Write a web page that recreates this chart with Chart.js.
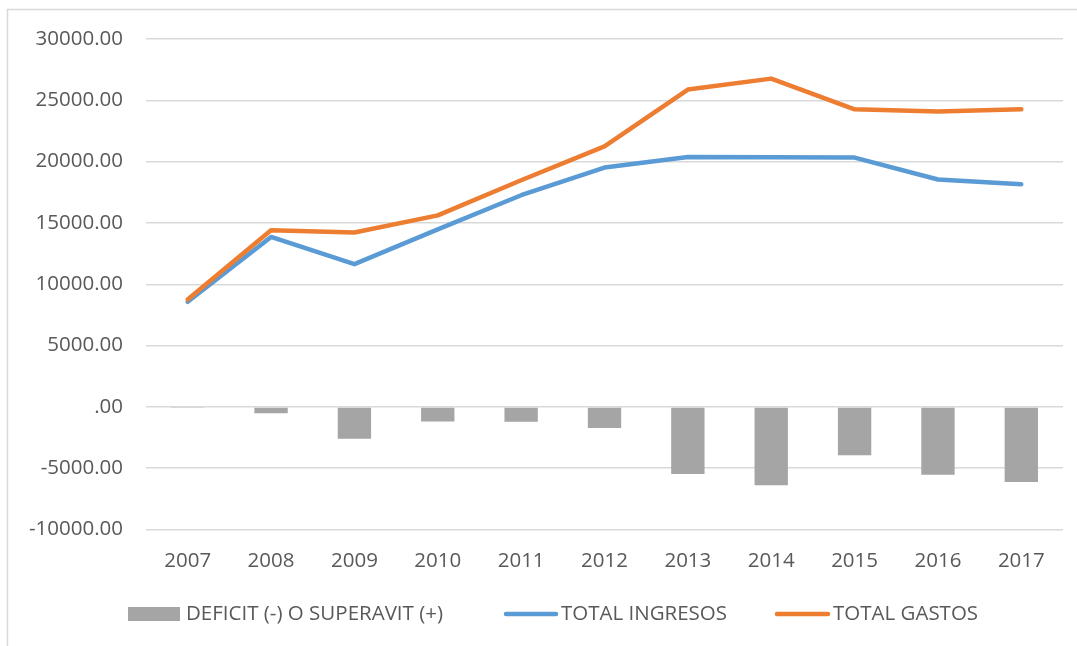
<!DOCTYPE html>
<html>
<head>
<meta charset="utf-8">
<script src="https://cdn.jsdelivr.net/npm/chart.js@4.4.1/dist/chart.umd.min.js"></script>
<style>
html,body{margin:0;padding:0;background:#fff;}
#wrap{position:relative;width:1077px;height:646px;}
</style>
</head>
<body>
<div id="wrap"><canvas id="c" width="1077" height="646"></canvas></div>
<script>
const categories = ["2007","2008","2009","2010","2011","2012","2013","2014","2015","2016","2017"];
const deficit = [-100, -530, -2600, -1200, -1210, -1720, -5470, -6390, -3940, -5530, -6120];
const ingresos = [8570, 13860, 11640, 14470, 17260, 19520, 20380, 20360, 20330, 18540, 18160];
const gastos = [8760, 14410, 14220, 15620, 18480, 21250, 25880, 26770, 24270, 24080, 24270];
const seriesNames = ["DEFICIT (-) O SUPERAVIT (+)", "TOTAL INGRESOS", "TOTAL GASTOS"];
const yTicks = [-10000, -5000, 0, 5000, 10000, 15000, 20000, 25000, 30000];

const FONT = "'Open Sans', 'Noto Sans', sans-serif";
const FS = 20.5;
const TEXT = "#595959";
const GREY = "#A5A5A5", BLUE = "#5B9BD5", ORANGE = "#ED7D31";

const frame = {
  id: 'frame',
  beforeDraw(chart) {
    const ctx = chart.ctx;
    ctx.save();
    ctx.strokeStyle = '#D9D9D9';
    ctx.lineWidth = 1.5;
    ctx.beginPath();
    ctx.moveTo(7.5, 700);
    ctx.lineTo(7.5, 9.5);
    ctx.lineTo(1100, 9.5);
    ctx.stroke();
    ctx.restore();
  },
  afterDraw(chart) {
    const ctx = chart.ctx;
    ctx.save();
    ctx.font = FS + "px " + FONT;
    ctx.fillStyle = TEXT;
    ctx.textBaseline = 'middle';
    const y = 614;
    ctx.fillStyle = GREY;
    ctx.fillRect(128, 607, 52, 14);
    ctx.fillStyle = TEXT;
    ctx.fillText(seriesNames[0], 186, y);
    ctx.lineCap = 'round';
    ctx.lineWidth = 4.5;
    ctx.strokeStyle = BLUE;
    ctx.beginPath(); ctx.moveTo(506, y); ctx.lineTo(556, y); ctx.stroke();
    ctx.fillText(seriesNames[1], 561, y);
    ctx.strokeStyle = ORANGE;
    ctx.beginPath(); ctx.moveTo(777, y); ctx.lineTo(828, y); ctx.stroke();
    ctx.fillText(seriesNames[2], 833, y);
    ctx.restore();
  }
};

new Chart(document.getElementById('c'), {
  data: {
    labels: categories,
    datasets: [
      { type: 'line', label: seriesNames[2], data: gastos, borderColor: ORANGE, backgroundColor: ORANGE,
        borderWidth: 4.5, pointRadius: 0, tension: 0, borderCapStyle: 'round', borderJoinStyle: 'round', order: 1 },
      { type: 'line', label: seriesNames[1], data: ingresos, borderColor: BLUE, backgroundColor: BLUE,
        borderWidth: 4.5, pointRadius: 0, tension: 0, borderCapStyle: 'round', borderJoinStyle: 'round', order: 2 },
      { type: 'bar', label: seriesNames[0], data: deficit, backgroundColor: GREY,
        barPercentage: 0.4, categoryPercentage: 1.0, order: 3 }
    ]
  },
  options: {
    responsive: false,
    animation: false,
    devicePixelRatio: 1,
    layout: { padding: { left: 0, top: 39, right: 14, bottom: 0 } },
    plugins: { legend: { display: false }, tooltip: { enabled: false } },
    scales: {
      x: {
        offset: true,
        grid: { display: false, drawTicks: false },
        border: { display: false },
        ticks: { color: TEXT, font: { family: FONT, size: FS }, padding: 19, maxRotation: 0 },
        afterFit(s) { s.height = 116.5; }
      },
      y: {
        min: -10000, max: 30000,
        afterBuildTicks(s) { s.ticks = yTicks.map(v => ({ value: v })); },
        grid: { color: '#D9D9D9', lineWidth: 1.5, drawTicks: false },
        border: { display: false },
        ticks: {
          color: TEXT, font: { family: FONT, size: FS }, padding: 23,
          callback: v => v === 0 ? '.00' : Number(v).toFixed(2)
        },
        afterFit(s) { s.width = 146; }
      }
    }
  },
  plugins: [frame]
});
</script>
</body>
</html>
